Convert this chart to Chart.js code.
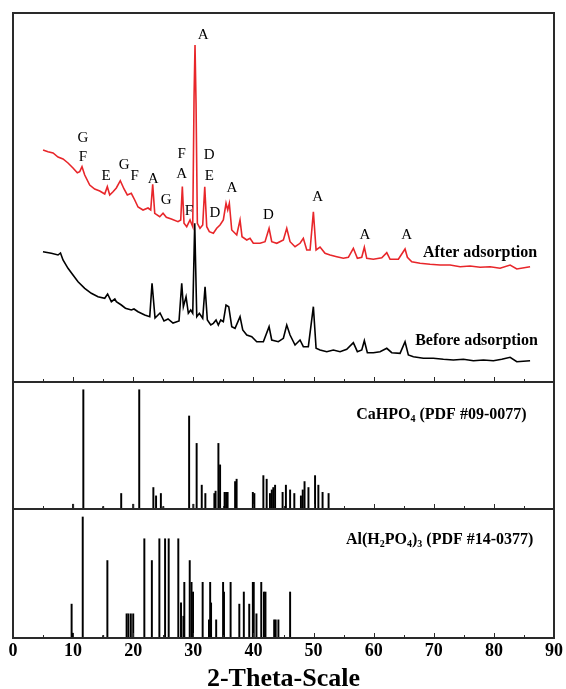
<!DOCTYPE html>
<html>
<head>
<meta charset="utf-8">
<script src="https://cdn.jsdelivr.net/npm/chart.js@4.4.1/dist/chart.umd.min.js"></script>
<style>
  html, body { margin: 0; padding: 0; background: #ffffff; }
  #wrap { position: relative; width: 566px; height: 689px; overflow: hidden; background: #ffffff; }
  canvas { position: absolute; left: 0; }
</style>
</head>
<body>
<div id="wrap">
  <canvas id="c1" width="566" height="390" style="top:0px;width:566px;height:390px"></canvas>
  <canvas id="c2" width="566" height="143" style="top:374px;width:566px;height:143px"></canvas>
  <canvas id="c3" width="566" height="188" style="top:501px;width:566px;height:188px"></canvas>
</div>
<script>
// ---------- DATA ----------
// XRD pattern after adsorption (2θ, intensity a.u., offset as plotted)
const afterTheta = [5.0,5.82,6.66,7.49,8.32,9.15,9.98,10.70,11.10,11.48,11.93,12.76,13.59,14.43,15.26,15.69,16.09,16.64,17.19,17.85,18.47,19.02,19.68,20.25,20.80,21.63,22.46,22.91,23.24,23.58,24.41,24.96,25.51,26.34,27.45,27.90,28.17,28.45,28.90,29.45,29.90,30.12,30.28,30.45,30.67,31.11,31.56,31.90,32.23,32.66,33.33,33.89,34.44,34.99,35.44,35.72,35.99,36.39,37.22,37.77,38.10,38.89,39.43,39.98,41.10,41.93,42.60,43.04,43.88,44.98,45.54,46.09,46.92,47.75,48.30,48.87,49.42,49.97,50.42,51.08,51.91,52.75,53.86,54.96,55.79,56.62,57.29,58.02,58.45,58.85,59.95,61.35,62.18,62.73,64.11,65.22,65.61,66.34,67.72,69.38,71.05,72.71,74.38,76.04,77.70,79.37,81.03,82.70,83.81,86.02];
const afterCounts = [232,230.3,229,225,223,219,214,209.3,210.3,215.3,207,197,193,191,188,195.3,187,190.3,194,201.3,193,187,188.7,182,175,172,174,172,197.7,168.7,165.3,168.7,164.7,163,160.3,162,195.5,158.7,155.3,162,155.3,285.3,337,279,158.7,153.7,157,195.3,155.3,150.3,148.7,153.7,157,162,178.7,172,178.7,152,147,162,145.3,142,143.7,138.7,138.7,140.3,153.7,140.3,138.7,142,153.7,140.3,135.3,138.7,143.7,132,132,170.3,132,135,128.7,127,125.3,123.7,124.7,133.7,123.7,124.7,134.7,123.7,122.7,124.3,129.3,122.7,122.7,133,124.7,120.3,118.7,117.7,117,117,115.3,116,114.7,115.3,113.7,117,113,115.3];

// XRD pattern before adsorption
const beforeTheta = [4.99,6.37,7.49,7.90,8.32,9.15,9.98,10.82,11.93,13.03,14.14,15.26,15.74,16.36,16.94,17.19,18.02,18.70,19.68,20.13,20.80,21.91,22.75,23.13,23.63,24.46,25.12,25.79,26.62,27.62,28.07,28.34,28.79,29.17,29.57,29.90,30.23,30.57,31.00,31.56,31.95,32.33,32.90,33.33,33.78,34.16,34.56,34.99,35.44,35.89,36.39,36.94,37.77,38.22,38.89,39.72,40.55,41.65,42.60,43.04,44.14,44.98,45.54,46.09,46.92,47.75,48.30,49.13,49.97,50.42,51.08,52.20,53.29,54.41,55.52,56.62,57.29,58.02,58.45,58.95,59.95,61.06,62.18,63.01,64.39,65.22,65.77,66.61,68.27,69.93,71.60,73.26,74.93,76.59,78.26,79.92,81.31,82.70,83.81,86.02];
const beforeCounts = [130.3,128.7,127,129,122,113.7,107,100.3,93.7,88.7,85.3,83.7,88,80.3,83,80.3,77,73.8,72,73,70.3,67,65.3,98.7,64,69,61,63,59,61,98.7,75.3,85.3,68.7,72,68.7,158.7,65.3,68.7,63.7,95.3,62,57,58.7,62,57,62,60.3,77,75.3,55.3,53.7,65.3,52,47,45.3,40.3,40.3,55.3,42,40.3,43.7,57,47,37,42,35.3,35.3,75.3,33.7,32,30.3,32,30.3,32.7,39.3,30.3,32,41.3,29.3,29.3,30.3,33.7,29.3,28.7,40.3,27,25.3,23.7,23.7,22.7,22,22.7,21.3,22,21.3,22.7,24.7,20.3,21.3];

// Reference pattern CaHPO4 (PDF #09-0077): 2θ and relative intensity (%)
const caTheta = [10.0,11.7,15.0,18.0,20.0,21.0,23.35,23.8,24.6,25.0,29.3,30.0,30.55,31.4,32.0,33.5,33.7,34.17,34.45,35.2,35.45,35.7,36.95,37.2,39.9,40.15,41.65,42.2,42.75,43.05,43.3,43.6,44.85,45.4,46.1,46.8,47.9,48.2,48.5,49.15,50.25,50.8,51.5,52.5];
const caIntensity = [4,100,2,13,4,100,18,11,13,2,78,4,55,20,13,13,15,55,37,14,14,14,23,25,14,13,28,25,13,16,18,20,14,20,16,13,11,16,23,18,28,20,14,13];

// Reference pattern Al(H2PO4)3 (PDF #14-0377)
const alTheta = [9.75,9.9,11.6,15.0,15.7,18.9,19.2,19.6,20.0,21.85,23.1,24.35,25.3,25.9,27.5,27.95,28.35,28.5,29.4,29.7,29.95,31.55,32.6,32.8,32.95,33.8,34.95,35.1,36.2,37.65,38.4,39.3,39.9,40.05,40.5,41.3,41.75,42.0,43.45,43.7,44.15,46.1];
const alIntensity = [28,4,100,2,64,20,20,20,20,82,64,82,82,82,82,29,18,46,64,46,38,46,15,46,29,15,46,38,46,28,38,28,46,46,20,46,38,38,15,15,15,38];

// Phase letters marked on the "after adsorption" pattern (anchored at 2θ, intensity)
const peakLetters = ['G','F','E','G','F','A','G','F','A','F','A','D','E','D','A','D','A','A','A'];
const peakLetterTheta = [11.65,11.65,15.5,18.5,20.25,23.3,25.5,28.05,28.05,29.25,31.65,32.65,32.65,33.6,36.4,42.5,50.7,58.55,65.5];
const peakLetterCounts = [243.7,224.7,206,217,206,202.7,182,228,208,171,347,227,206,169.3,193.7,167,185.3,147,147];

const seriesNames = ['After adsorption', 'Before adsorption'];
const seriesNameTheta = [68.2, 66.9];
const seriesNameCounts = [129, 41];

const xTickStep = 10;
const xMinorStep = 5;

// ---------- HELPERS ----------
const SERIF = '"Liberation Serif", "Times New Roman", "DejaVu Serif", serif';

function pairs(xs, ys) { return xs.map((x, i) => ({ x: x, y: ys[i] })); }

const framePlugin = {
  id: 'frame',
  afterDraw(chart) {
    const { ctx, chartArea: a, scales } = chart;
    const xs = scales.x;
    ctx.save();
    ctx.strokeStyle = '#2a2a2a';
    ctx.lineWidth = 1;
    for (let v = xMinorStep; v < 90; v += xMinorStep) {
      const px = Math.round(xs.getPixelForValue(v)) + 0.5;
      const len = (v % xTickStep === 0) ? 5 : 3;
      ctx.beginPath();
      ctx.moveTo(px, a.bottom);
      ctx.lineTo(px, a.bottom - len);
      ctx.stroke();
    }
    ctx.lineWidth = 2;
    ctx.strokeRect(a.left, a.top, a.right - a.left, a.bottom - a.top);
    ctx.restore();
  }
};

function baseX(showLabels) {
  return {
    type: 'linear', min: 0, max: 90,
    offset: false,
    display: showLabels,
    grid: { display: false, drawTicks: false, offset: false },
    border: { display: false },
    ticks: {
      stepSize: xTickStep, autoSkip: false, maxRotation: 0,
      color: '#000', padding: 3,
      font: { family: SERIF, size: 18, weight: 'bold' }
    },
    title: {
      display: showLabels, text: '2-Theta-Scale', color: '#000',
      font: { family: SERIF, size: 26, weight: 'bold', lineHeight: 0.72 },
      padding: { top: 0, bottom: 0 }
    },
    afterFit(scale) { if (showLabels) scale.height = 51; }
  };
}

function baseOptions(pad, yMax, showX) {
  return {
    responsive: false, animation: false, devicePixelRatio: 1,
    layout: { padding: pad },
    plugins: { legend: { display: false }, tooltip: { enabled: false } },
    scales: {
      x: baseX(showX),
      y: { type: 'linear', min: 0, max: yMax, display: false }
    }
  };
}

// ---------- TOP PANEL ----------
const topLabelsPlugin = {
  id: 'topLabels',
  afterDatasetsDraw(chart) {
    const { ctx, scales: { x, y } } = chart;
    ctx.save();
    ctx.fillStyle = '#000';
    ctx.textAlign = 'center';
    ctx.textBaseline = 'middle';
    ctx.font = '15px ' + SERIF;
    peakLetters.forEach((t, i) => {
      ctx.fillText(t, x.getPixelForValue(peakLetterTheta[i]), y.getPixelForValue(peakLetterCounts[i]));
    });
    ctx.textAlign = 'left';
    ctx.font = 'bold 16px ' + SERIF;
    seriesNames.forEach((t, i) => {
      ctx.fillText(t, x.getPixelForValue(seriesNameTheta[i]), y.getPixelForValue(seriesNameCounts[i]));
    });
    ctx.restore();
  }
};

new Chart(document.getElementById('c1'), {
  type: 'line',
  data: {
    datasets: [
      { label: 'Before adsorption', data: pairs(beforeTheta, beforeCounts), borderColor: '#000000', borderWidth: 1.6, pointRadius: 0, tension: 0, fill: false },
      { label: 'After adsorption', data: pairs(afterTheta, afterCounts), borderColor: '#e8262a', borderWidth: 1.6, pointRadius: 0, tension: 0, fill: false }
    ]
  },
  options: baseOptions({ left: 13, right: 12, top: 13, bottom: 8 }, 369, false),
  plugins: [framePlugin, topLabelsPlugin]
});

// ---------- STICK PANELS ----------
function drawRich(ctx, x, y, parts, size) {
  let cx = x;
  parts.forEach(p => {
    const s = p.sub ? Math.round(size * 0.6) : size;
    ctx.font = 'bold ' + s + 'px ' + SERIF;
    ctx.fillText(p.t, cx, p.sub ? y + size * 0.3 : y);
    cx += ctx.measureText(p.t).width;
  });
}

function refLabelPlugin(parts, theta, val) {
  return {
    id: 'refLabel',
    afterDatasetsDraw(chart) {
      const { ctx, scales: { x, y } } = chart;
      ctx.save();
      ctx.fillStyle = '#000';
      ctx.textAlign = 'left';
      ctx.textBaseline = 'middle';
      drawRich(ctx, x.getPixelForValue(theta), y.getPixelForValue(val), parts, 16);
      ctx.restore();
    }
  };
}

const caLabel = [{ t: 'CaHPO' }, { t: '4', sub: true }, { t: ' (PDF #09-0077)' }];
const alLabel = [{ t: 'Al(H' }, { t: '2', sub: true }, { t: 'PO' }, { t: '4', sub: true }, { t: ')' }, { t: '3', sub: true }, { t: ' (PDF #14-0377)' }];

new Chart(document.getElementById('c2'), {
  type: 'bar',
  data: {
    datasets: [{ label: 'CaHPO4', data: pairs(caTheta, caIntensity), backgroundColor: '#000', borderWidth: 0, barThickness: 1.3, grouped: false }]
  },
  options: baseOptions({ left: 13, right: 12, top: 8, bottom: 8 }, 106.5, false),
  plugins: [framePlugin, refLabelPlugin(caLabel, 57.1, 79)]
});

new Chart(document.getElementById('c3'), {
  type: 'bar',
  data: {
    datasets: [{ label: 'Al(H2PO4)3', data: pairs(alTheta, alIntensity), backgroundColor: '#000', borderWidth: 0, barThickness: 1.3, grouped: false }]
  },
  options: baseOptions({ left: 13, right: 12, top: 8, bottom: 0 }, 106.6, true),
  plugins: [framePlugin, refLabelPlugin(alLabel, 55.4, 81.3)]
});
</script>
</body>
</html>
